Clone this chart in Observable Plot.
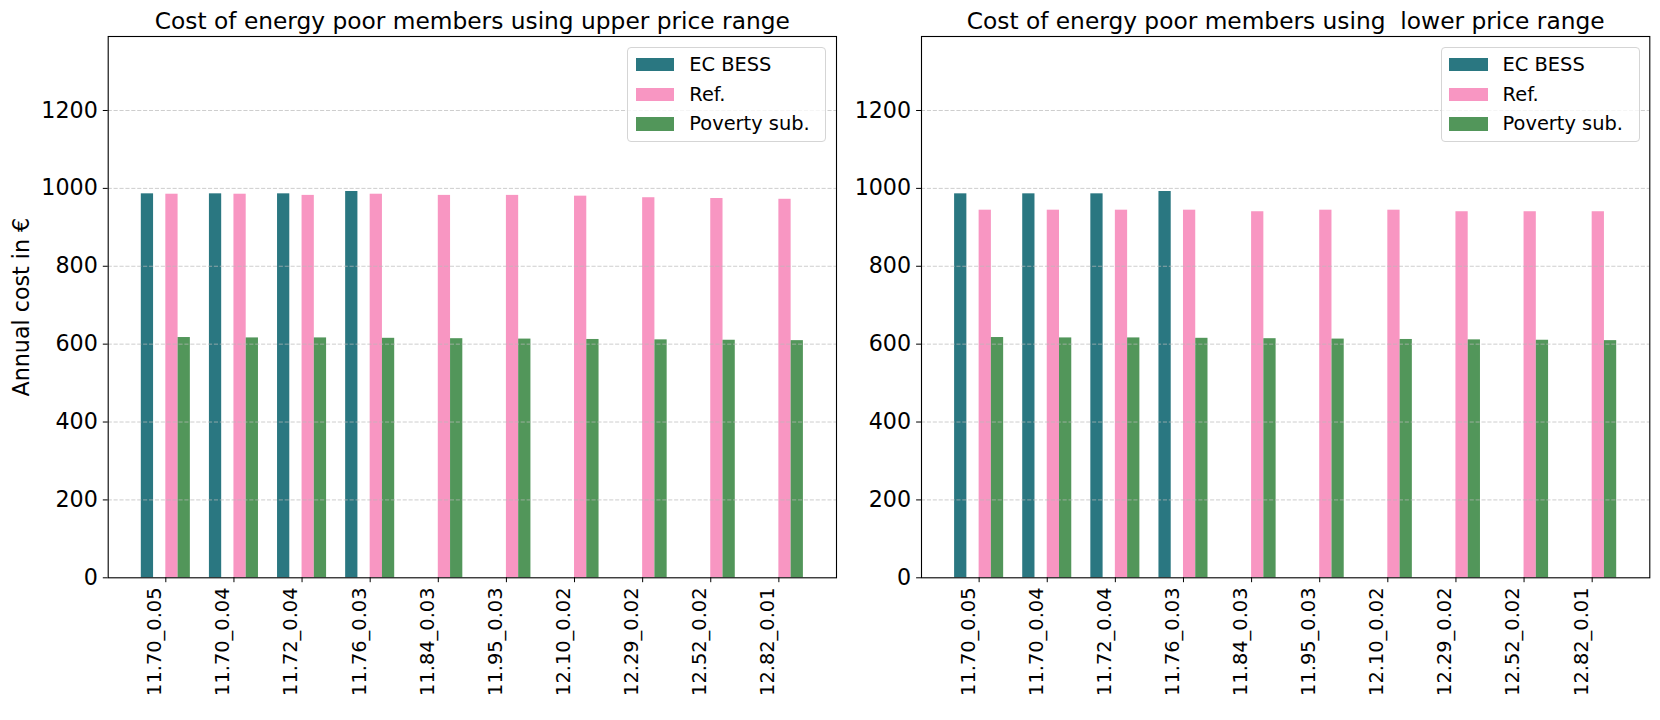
<!DOCTYPE html>
<html>
<head>
<meta charset="utf-8">
<script src="https://cdn.jsdelivr.net/npm/d3@7"></script>
<script src="https://cdn.jsdelivr.net/npm/@observablehq/plot@0.6"></script>
<style>
  html, body { margin: 0; padding: 0; background: white; }
  #root { position: relative; width: 1660px; height: 720px; font-family: "DejaVu Sans", sans-serif; }
  .panel { position: absolute; top: 0; }
  .legend { position: absolute; box-sizing: border-box; border: 1px solid #d5d5d5; border-radius: 4px; background: rgba(255,255,255,0.8); font-size: 19.4px; }
  .lpatch { position: absolute; width: 38.8px; height: 13.6px; }
  .ltext { position: absolute; white-space: nowrap; line-height: 22px; }
</style>
</head>
<body>
<div id="root"></div>
<script>
// ---- data ----
const categories = ["11.70_0.05","11.70_0.04","11.72_0.04","11.76_0.03","11.84_0.03","11.95_0.03","12.10_0.02","12.29_0.02","12.52_0.02","12.82_0.01"];
const seriesNames = ["EC BESS", "Ref.", "Poverty sub."];
const seriesColors = ["#2a7781", "#f896c2", "#52965a"];

const upperEC = [986, 986, 986, 992, null, null, null, null, null, null];
const upperRef = [985, 985, 982, 985, 982, 982, 980, 976, 974, 972];
const upperPov = [617, 616, 616, 615, 614, 613, 612, 611, 610, 609];

const lowerEC = [986, 986, 986, 992, null, null, null, null, null, null];
const lowerRef = [944, 944, 944, 944, 940, 944, 944, 940, 940, 940];
const lowerPov = [617, 616, 616, 615, 614, 613, 612, 611, 610, 609];

const yTicks = [0, 200, 400, 600, 800, 1000, 1200];
const titles = ["Cost of energy poor members using upper price range", "Cost of energy poor members using  lower price range"];
const yLabel = "Annual cost in €";

// ---- layout ----
const W = 0.18;
const H = 720, MT = 36, MB = 720 - 577.3;

function buildRows(ec, ref, pov) {
  const rows = [];
  categories.forEach((c, i) => {
    if (ec[i] != null) rows.push({series: seriesNames[0], x1: i - 2 * W, x2: i - W, v: ec[i]});
    rows.push({series: seriesNames[1], x1: i, x2: i + W, v: ref[i]});
    rows.push({series: seriesNames[2], x1: i + W, x2: i + 2 * W, v: pov[i]});
  });
  return rows;
}

function panel(title, ec, ref, pov, showLabel, width, ml, mr) {
  const rows = buildRows(ec, ref, pov);
  const marks = [
    Plot.rectY(rows, {x1: "x1", x2: "x2", y: "v", fill: "series"}),
    Plot.ruleY(yTicks.slice(1), {stroke: "#b8b8b8", strokeOpacity: 0.7, strokeDasharray: "4.1,1.8", strokeWidth: 1}),
    Plot.axisY({ticks: yTicks, tickSize: 4.9, tickPadding: 5.5, fontSize: 22.2, stroke: "black",
      tickFormat: d => String(d), label: null}),
    Plot.axisX({ticks: d3.range(categories.length), tickSize: 4.9, tickFormat: () => "", stroke: "black", label: null}),
    Plot.axisX({ticks: d3.range(categories.length), tickSize: 0, tickPadding: 9.7, tickRotate: -90,
      tickFormat: i => categories[i], fontSize: 19.4, dx: -10.8, label: null}),
    Plot.frame({stroke: "black", strokeWidth: 1.1}),
    Plot.text([title], {frameAnchor: "top", text: d => d, fontSize: 23.3, lineAnchor: "bottom", dy: -8, fill: "black"})
  ];
  if (showLabel) {
    marks.push(Plot.text([yLabel], {frameAnchor: "left", text: d => d, rotate: -90, fontSize: 22.2,
      textAnchor: "middle", lineAnchor: "middle", dx: 20.9 - ml, fill: "black"}));
  }
  return Plot.plot({
    width, height: H, marginLeft: ml, marginRight: mr, marginTop: MT, marginBottom: MB,
    x: {type: "linear", domain: [-0.846, 9.846]},
    y: {domain: [0, 1390]},
    color: {domain: seriesNames, range: seriesColors},
    style: {background: "transparent", fontFamily: "DejaVu Sans", fontSize: "19.4px", color: "black", overflow: "visible"},
    marks
  });
}

const root = document.getElementById("root");

function addPanel(left, svg, spineRight) {
  const d = document.createElement("div");
  d.className = "panel";
  d.style.left = left + "px";
  d.appendChild(svg);
  root.appendChild(d);
  // legend
  const lg = document.createElement("div");
  lg.className = "legend";
  const lw = 199, lh = 95.3;
  lg.style.left = (spineRight - 9.7 - lw) + "px";
  lg.style.top = "46.7px";
  lg.style.width = lw + "px";
  lg.style.height = lh + "px";
  const centers = [17, 47, 76.5];
  seriesNames.forEach((name, k) => {
    const p = document.createElement("div");
    p.className = "lpatch";
    p.style.left = "7.3px";
    p.style.top = (centers[k] - 6.8) + "px";
    p.style.background = seriesColors[k];
    lg.appendChild(p);
    const t = document.createElement("div");
    t.className = "ltext";
    t.style.left = "61px";
    t.style.top = (centers[k] - 11) + "px";
    t.textContent = name;
    lg.appendChild(t);
  });
  root.appendChild(lg);
}

addPanel(0, panel(titles[0], upperEC, upperRef, upperPov, true, 850, 107.7, 14), 836);
addPanel(850, panel(titles[1], lowerEC, lowerRef, lowerPov, false, 810, 71, 10.7), 1649.3);
</script>
</body>
</html>
